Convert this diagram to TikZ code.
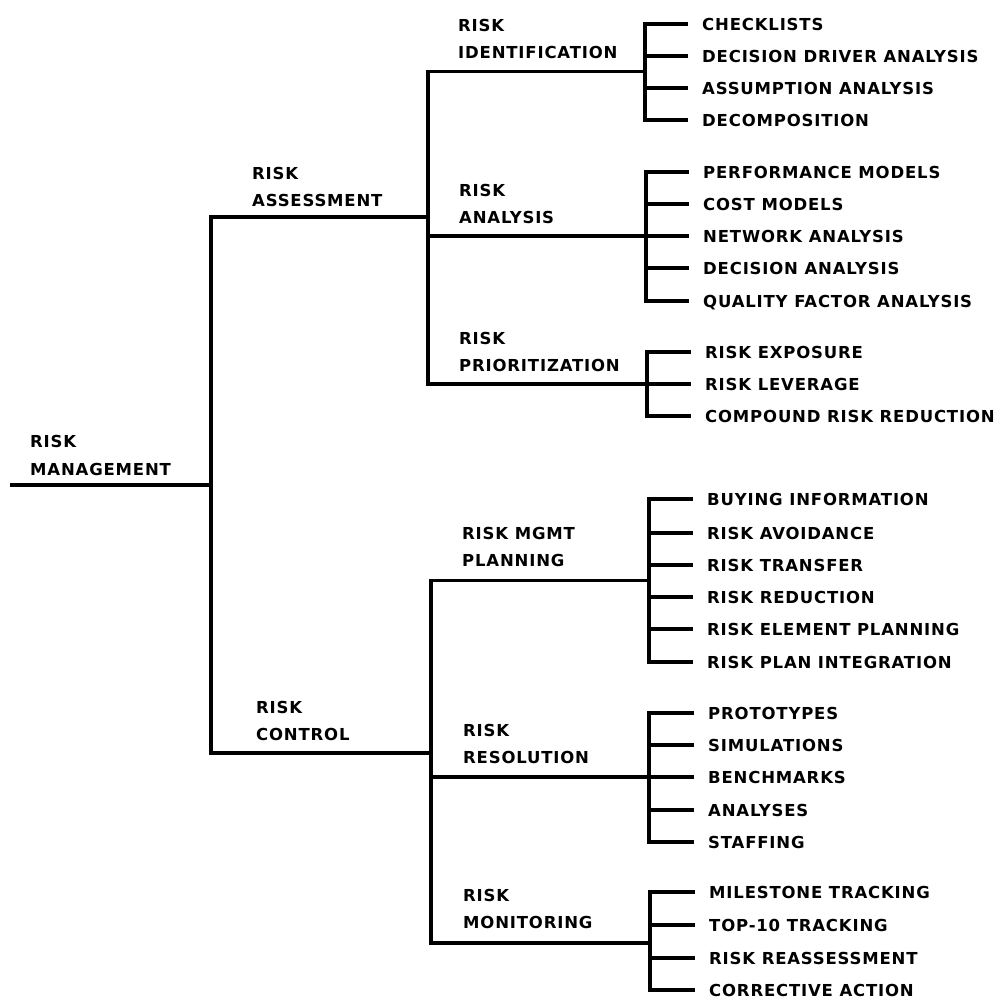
\documentclass[tikz,border=0pt]{standalone}
\usepackage{fontspec}
\newfontfamily\dfont{DejaVu Sans}[LetterSpace=5]
\begin{document}
\begin{tikzpicture}[x=1pt,y=-1pt,
  link/.style={line width=3.1pt, line join=miter},
  item/.style={anchor=west, inner sep=0pt, text height=12pt, text depth=0pt,
    font=\dfont\bfseries\fontsize{16.5}{20}\selectfont},
  head/.style={anchor=base west, inner sep=0pt, align=left,
    font=\dfont\bfseries\fontsize{16.5}{27.5}\selectfont}]
\useasboundingbox (0,0) rectangle (1000,1001);

% ---------- category labels (anchored at the baseline of the lower line) ----------
\node[head] (mgmt)   at (30,475)   {RISK\\MANAGEMENT};
\node[head] (assess) at (252,206.5){RISK\\ASSESSMENT};
\node[head] (ctrl)   at (256,740.5){RISK\\CONTROL};
\node[head] (ident)  at (458,58.5) {RISK\\IDENTIFICATION};
\node[head] (anal)   at (459,223.5){RISK\\ANALYSIS};
\node[head] (prio)   at (459,371.5){RISK\\PRIORITIZATION};
\node[head] (plan)   at (462,566.5){RISK MGMT\\PLANNING};
\node[head] (reso)   at (463,763.5){RISK\\RESOLUTION};
\node[head] (moni)   at (463,928.5){RISK\\MONITORING};

% ---------- techniques ----------
\node[item] (i1) at (702,24)  {CHECKLISTS};
\node[item] (i2) at (702,56)  {DECISION DRIVER ANALYSIS};
\node[item] (i3) at (702,88)  {ASSUMPTION ANALYSIS};
\node[item] (i4) at (702,120) {DECOMPOSITION};

\node[item] (a1) at (703,172) {PERFORMANCE MODELS};
\node[item] (a2) at (703,204) {COST MODELS};
\node[item] (a3) at (703,236) {NETWORK ANALYSIS};
\node[item] (a4) at (703,268) {DECISION ANALYSIS};
\node[item] (a5) at (703,301) {QUALITY FACTOR ANALYSIS};

\node[item] (p1) at (705,352) {RISK EXPOSURE};
\node[item] (p2) at (705,384) {RISK LEVERAGE};
\node[item] (p3) at (705,416) {COMPOUND RISK REDUCTION};

\node[item] (m1) at (707,499) {BUYING INFORMATION};
\node[item] (m2) at (707,533) {RISK AVOIDANCE};
\node[item] (m3) at (707,565) {RISK TRANSFER};
\node[item] (m4) at (707,597) {RISK REDUCTION};
\node[item] (m5) at (707,629) {RISK ELEMENT PLANNING};
\node[item] (m6) at (707,662) {RISK PLAN INTEGRATION};

\node[item] (r1) at (708,713) {PROTOTYPES};
\node[item] (r2) at (708,745) {SIMULATIONS};
\node[item] (r3) at (708,777) {BENCHMARKS};
\node[item] (r4) at (708,810) {ANALYSES};
\node[item] (r5) at (708,842) {STAFFING};

\node[item] (o1) at (709,892) {MILESTONE TRACKING};
\node[item] (o2) at (709,925) {TOP-10 TRACKING};
\node[item] (o3) at (709,958) {RISK REASSESSMENT};
\node[item] (o4) at (709,990) {CORRECTIVE ACTION};

% ---------- junction points ----------
\coordinate (rootS) at (10,485);
\coordinate (rootJ) at (211,485);
\coordinate (aJ) at (428,217);
\coordinate (cJ) at (431,753);
\coordinate (jId) at (645,71.5);
\coordinate (jAn) at (646,236);
\coordinate (jPr) at (647,384);
\coordinate (jPl) at (649,580.5);
\coordinate (jRe) at (649,777);
\coordinate (jMo) at (650,943);

% ---------- tree lines ----------
\draw[link] (rootS) -- (rootJ);
\draw[link] (aJ) -| (rootJ) |- (cJ);

\draw[link] (jId) -| (aJ) |- (jPr);
\draw[link] (aJ |- jAn) -- (jAn);
\draw[link] (jPl) -| (cJ) |- (jMo);
\draw[link] (cJ |- jRe) -- (jRe);

% brackets fanning out to the techniques
\def\gap{14pt}
\draw[link] ([xshift=-\gap]i1.west) -| (jId) |- ([xshift=-\gap]i4.west);
\foreach \n in {i2,i3} \draw[link] (jId |- \n.west) -- ([xshift=-\gap]\n.west);

\draw[link] ([xshift=-\gap]a1.west) -| (jAn) |- ([xshift=-\gap]a5.west);
\foreach \n in {a2,a3,a4} \draw[link] (jAn |- \n.west) -- ([xshift=-\gap]\n.west);

\draw[link] ([xshift=-\gap]p1.west) -| (jPr) |- ([xshift=-\gap]p3.west);
\draw[link] (jPr |- p2.west) -- ([xshift=-\gap]p2.west);

\draw[link] ([xshift=-\gap]m1.west) -| (jPl) |- ([xshift=-\gap]m6.west);
\foreach \n in {m2,m3,m4,m5} \draw[link] (jPl |- \n.west) -- ([xshift=-\gap]\n.west);

\draw[link] ([xshift=-\gap]r1.west) -| (jRe) |- ([xshift=-\gap]r5.west);
\foreach \n in {r2,r3,r4} \draw[link] (jRe |- \n.west) -- ([xshift=-\gap]\n.west);

\draw[link] ([xshift=-\gap]o1.west) -| (jMo) |- ([xshift=-\gap]o4.west);
\foreach \n in {o2,o3} \draw[link] (jMo |- \n.west) -- ([xshift=-\gap]\n.west);
\end{tikzpicture}
\end{document}
